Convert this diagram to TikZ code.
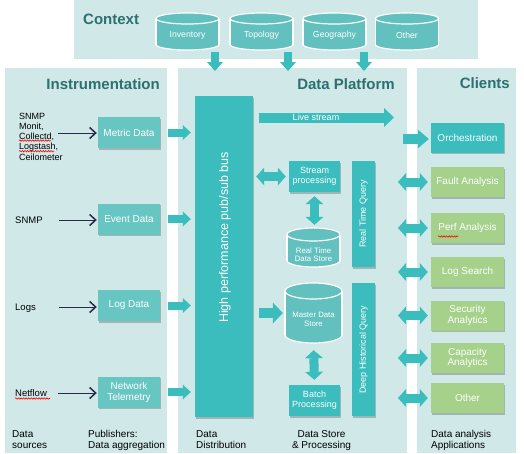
\documentclass[tikz,border=0pt]{standalone}
\usepackage{fontspec}
\setmainfont{Liberation Sans}
\usetikzlibrary{arrows.meta,shadows,decorations.pathmorphing,calc}
\definecolor{panelbg}{RGB}{208,232,232}
\definecolor{tealA}{RGB}{59,189,189}
\definecolor{pubcol}{RGB}{104,198,194}
\definecolor{cylcol}{RGB}{98,193,190}
\definecolor{greencol}{RGB}{165,209,139}
\definecolor{titlecol}{RGB}{44,112,114}
\definecolor{navy}{RGB}{40,44,72}
\newcommand\fs[2]{\fontsize{#1}{#2}\selectfont}
% name, cx, ytop, ybot, width, ry
\newcommand\dbcyl[6]{%
  \fill[cylcol] ({#2-#5/2},{#3+#6}) rectangle ({#2+#5/2},{#4-#6});
  \filldraw[fill=cylcol, draw=white, line width=1.2pt] (#2,{#4-#6}) ellipse[x radius={#5/2}, y radius=#6];
  \fill[cylcol] ({#2-#5/2+0.6},{#3+#6}) rectangle ({#2+#5/2-0.6},{#4-#6});
  \draw[white, line width=1.2pt] ({#2-#5/2},{#3+#6}) -- ({#2-#5/2},{#4-#6}) ({#2+#5/2},{#3+#6}) -- ({#2+#5/2},{#4-#6});
  \filldraw[fill=cylcol, draw=white, line width=1.2pt] (#2,{#3+#6}) ellipse[x radius={#5/2}, y radius=#6];
  \node[inner sep=0, minimum width=#5pt, minimum height={(#4-#3)*1pt}] (#1) at (#2,{(#3+#4)/2}) {};
}
\tikzset{
  panel/.style={fill=panelbg, draw=none},
  ttl/.style={font=\fs{15}{18}\bfseries, text=titlecol, inner sep=0},
  box/.style={rectangle, draw=none, text=white, align=center, inner sep=1pt,
    drop shadow={shadow xshift=1pt, shadow yshift=-1.5pt, opacity=0.22, fill=black}},
  pubbox/.style={box, fill=pubcol, minimum width=62pt, minimum height=31pt, font=\fs{10}{11}},
  dpbox/.style={box, fill=tealA, minimum width=51pt, minimum height=31pt, font=\fs{9}{10}},
  qbox/.style={box, fill=tealA, minimum width=23pt},
  clbox/.style={box, minimum width=73pt, minimum height=30pt, font=\fs{10}{10.5}},
  cyltext/.style={text=white, align=center, inner sep=0},
  wtext/.style={text=white, inner sep=0},
  src/.style={text=black, inner sep=0, align=left, font=\fs{9}{10.3}},
  foot/.style={text=black, inner sep=0, align=left, font=\fs{10}{11}, anchor=north west},
  blk/.style={draw=tealA, line width=9pt, -{Triangle[length=9pt,width=18pt,line width=0pt]}},
  dblk/.style={draw=tealA, line width=9pt, {Triangle[length=8pt,width=18pt,line width=0pt]}-{Triangle[length=8pt,width=18pt,line width=0pt]}},
  thinarr/.style={draw=navy, line width=1pt, -{Straight Barb[length=6pt,width=11pt,line width=1.5pt]}},
  squig/.style={draw=red, line width=0.6pt, decorate, decoration={snake, amplitude=0.7pt, segment length=2.6pt}},
}
\begin{document}
\begin{tikzpicture}[x=1pt,y=-1pt]
\useasboundingbox (0,0) rectangle (524,453);
\fill[white] (0,0) rectangle (524,453);
% panels
\fill[panel] (74,0) rectangle (478,59);
\fill[panel] (5,68) rectangle (167,453);
\fill[panel] (178,68) rectangle (407,453);
\fill[panel] (417,68) rectangle (516,453);
% titles
\node[ttl, anchor=west] (tctx) at (83,19) {Context};
\node[ttl, anchor=east] (tins) at (160,84) {Instrumentation};
\node[ttl, anchor=east] (tdp) at (395,84) {Data Platform};
\node[ttl, anchor=east] (tcl) at (510,83) {Clients};
% context cylinders
\dbcyl{inv}{187.5}{13}{50}{63}{5.5}
\dbcyl{topo}{261.5}{13}{50}{63}{5.5}
\dbcyl{geo}{334.5}{13}{50}{63}{5.5}
\dbcyl{oth}{407}{13}{50}{63}{5.5}
\node[cyltext, font=\fs{8.7}{10}] (invt) at (187.5,35.5) {Inventory};
\node[cyltext, font=\fs{8.7}{10}] (topot) at (261.5,35.5) {Topology};
\node[cyltext, font=\fs{8.7}{10}] (geot) at (334.5,35) {Geography};
\node[cyltext, font=\fs{8.7}{10}] (otht) at (407,35) {Other};
% context arrows
\coordinate (c1s) at (215,52); \coordinate (c1e) at (215,71);
\coordinate (c2s) at (288,52); \coordinate (c2e) at (288,71);
\coordinate (c3s) at (364,52); \coordinate (c3e) at (364,71);
\draw[blk, line width=8pt, -{Triangle[length=9pt,width=16pt,line width=0pt]}] (c1s) -- (c1e);
\draw[blk, line width=8pt, -{Triangle[length=9pt,width=16pt,line width=0pt]}] (c2s) -- (c2e);
\draw[blk, line width=8pt, -{Triangle[length=9pt,width=16pt,line width=0pt]}] (c3s) -- (c3e);
% sources
\node[src, anchor=north west] (s1) at (19,112.6) {SNMP\\Monit,\\Collectd,\\Logstash,\\Ceilometer};
\node[src, anchor=west, font=\fs{9.5}{11}] (s2) at (15,220) {SNMP};
\node[src, anchor=west, font=\fs{9.5}{11}] (s3) at (15,308) {Logs};
\node[src, anchor=west, font=\fs{9.5}{11}] (s4) at (15,393) {Netflow};
\draw[squig] (19,140.6) -- (51,140.6);
\draw[squig] (19,151.2) -- (54,151.2);
\draw[squig] (15,398.5) -- (50,398.5);
% publishers
\node[pubbox] (metric) at (129,132.5) {Metric Data};
\node[pubbox] (event) at (129,219) {Event Data};
\node[pubbox] (logd) at (129,305.5) {Log Data};
\node[pubbox] (net) at (129,392) {Network\\Telemetry};
\coordinate (a1) at (58,133);
\coordinate (a2) at (59,220);
\coordinate (a3) at (59,307);
\coordinate (a4) at (58,393);
\draw[thinarr, shorten >=1pt] (a1) -- (a1 -| metric.west);
\draw[thinarr, shorten >=1pt] (a2) -- (a2 -| event.west);
\draw[thinarr, shorten >=1pt] (a3) -- (a3 -| logd.west);
\draw[thinarr, shorten >=1pt] (a4) -- (a4 -| net.west);
% bus
\node[box, fill=tealA, minimum width=58pt, minimum height=321pt] (bus) at (224,256.5) {};
\node[wtext, rotate=90, font=\fs{12.5}{14}] (bust) at (225,237.5) {High performance pub/sub bus};
\draw[blk, line width=8pt, -{Triangle[length=8pt,width=15pt,line width=0pt]}, shorten <=8pt, shorten >=4pt] (metric.east) -- (metric.east -| bus.west);
\draw[blk, line width=8pt, -{Triangle[length=8pt,width=15pt,line width=0pt]}, shorten <=8pt, shorten >=4pt] (event.east) -- (event.east -| bus.west);
\draw[blk, line width=8pt, -{Triangle[length=8pt,width=15pt,line width=0pt]}, shorten <=8pt, shorten >=4pt] (logd.east) -- (logd.east -| bus.west);
\draw[blk, line width=8pt, -{Triangle[length=8pt,width=15pt,line width=0pt]}, shorten <=8pt, shorten >=4pt] (net.east) -- (net.east -| bus.west);
% live stream
\coordinate (lsend) at (394,117.5);
\draw[blk, line width=10pt, -{Triangle[length=10pt,width=19pt,line width=0pt]}, shorten <=6pt] (bus.east |- lsend) -- (lsend);
\node[wtext, font=\fs{9}{10}] (lst) at (316,117.5) {Live stream};
% stream processing
\node[dpbox] (stream) at (314.5,176.5) {Stream\\processing};
\draw[dblk, shorten <=3pt, shorten >=3pt] (bus.east |- stream.west) -- (stream.west);
\dbcyl{rts}{313.5}{228}{267}{53}{6.5}
\node[cyltext, font=\fs{7.8}{8.5}] (rtst) at (313.5,254.5) {Real Time\\Data Store};
\draw[dblk, shorten <=4pt, shorten >=3pt] (stream.south) -- (stream.south |- rts.north);
\node[qbox, minimum height=106pt] (rtq) at (363.5,214) {};
\node[wtext, rotate=90, font=\fs{9}{10}] (rtqt) at (rtq.center) {Real Time Query};
% master
\dbcyl{mds}{313.5}{283}{343}{57}{8}
\node[cyltext, font=\fs{7.8}{9}] (mdst) at (313.5,319) {Master Data\\Store};
\coordinate (mdy) at (0,313);
\draw[blk, line width=10pt, -{Triangle[length=10pt,width=21pt,line width=0pt]}, shorten <=6pt, shorten >=2pt] (bus.east |- mdy) -- (mds.west |- mdy);
\node[dpbox] (batch) at (314.5,400.5) {Batch\\Processing};
\draw[dblk, shorten <=7pt, shorten >=5pt] (mds.south) -- (batch.north);
\node[qbox, minimum height=133pt] (dhq) at (363.5,349.5) {};
\node[wtext, rotate=90, font=\fs{9}{10}] (dhqt) at (dhq.center) {Deep Historical Query};
% clients
\node[clbox, fill=tealA] (orch) at (467.5,137.5) {Orchestration};
\node[clbox, fill=greencol] (fault) at (467.5,182) {Fault Analysis};
\node[clbox, fill=greencol] (perf) at (467.5,228) {Perf Analysis};
\node[clbox, fill=greencol] (logs) at (467.5,272) {Log Search};
\node[clbox, fill=greencol] (sec) at (467.5,315.5) {Security\\Analytics};
\node[clbox, fill=greencol] (cap) at (467.5,358) {Capacity\\Analytics};
\node[clbox, fill=greencol] (cother) at (467.5,398) {Other};
\draw[squig] (438,236.5) -- (458,236.5);
\coordinate (o1) at (403,139);
\draw[blk, line width=10pt, -{Triangle[length=11pt,width=19pt,line width=0pt]}, shorten >=2pt] (o1) -- (o1 -| orch.west);
\coordinate (dx) at (398,0);
\foreach \n in {fault,perf,logs,sec,cap,cother}{
  \coordinate (d\n) at (\n.west -| dx);
  \draw[dblk, shorten >=3pt] (d\n) -- (\n.west);
}
% footers
\node[foot] (f1) at (12,430) {Data\\sources};
\node[foot] (f2) at (88,430) {Publishers:\\Data aggregation};
\node[foot] (f3) at (196,430) {Data\\Distribution};
\node[foot, align=center, anchor=north] (f4) at (321.5,430) {Data Store\\\& Processing};
\node[foot] (f5) at (431,430) {Data analysis\\Applications};
\end{tikzpicture}
\end{document}
